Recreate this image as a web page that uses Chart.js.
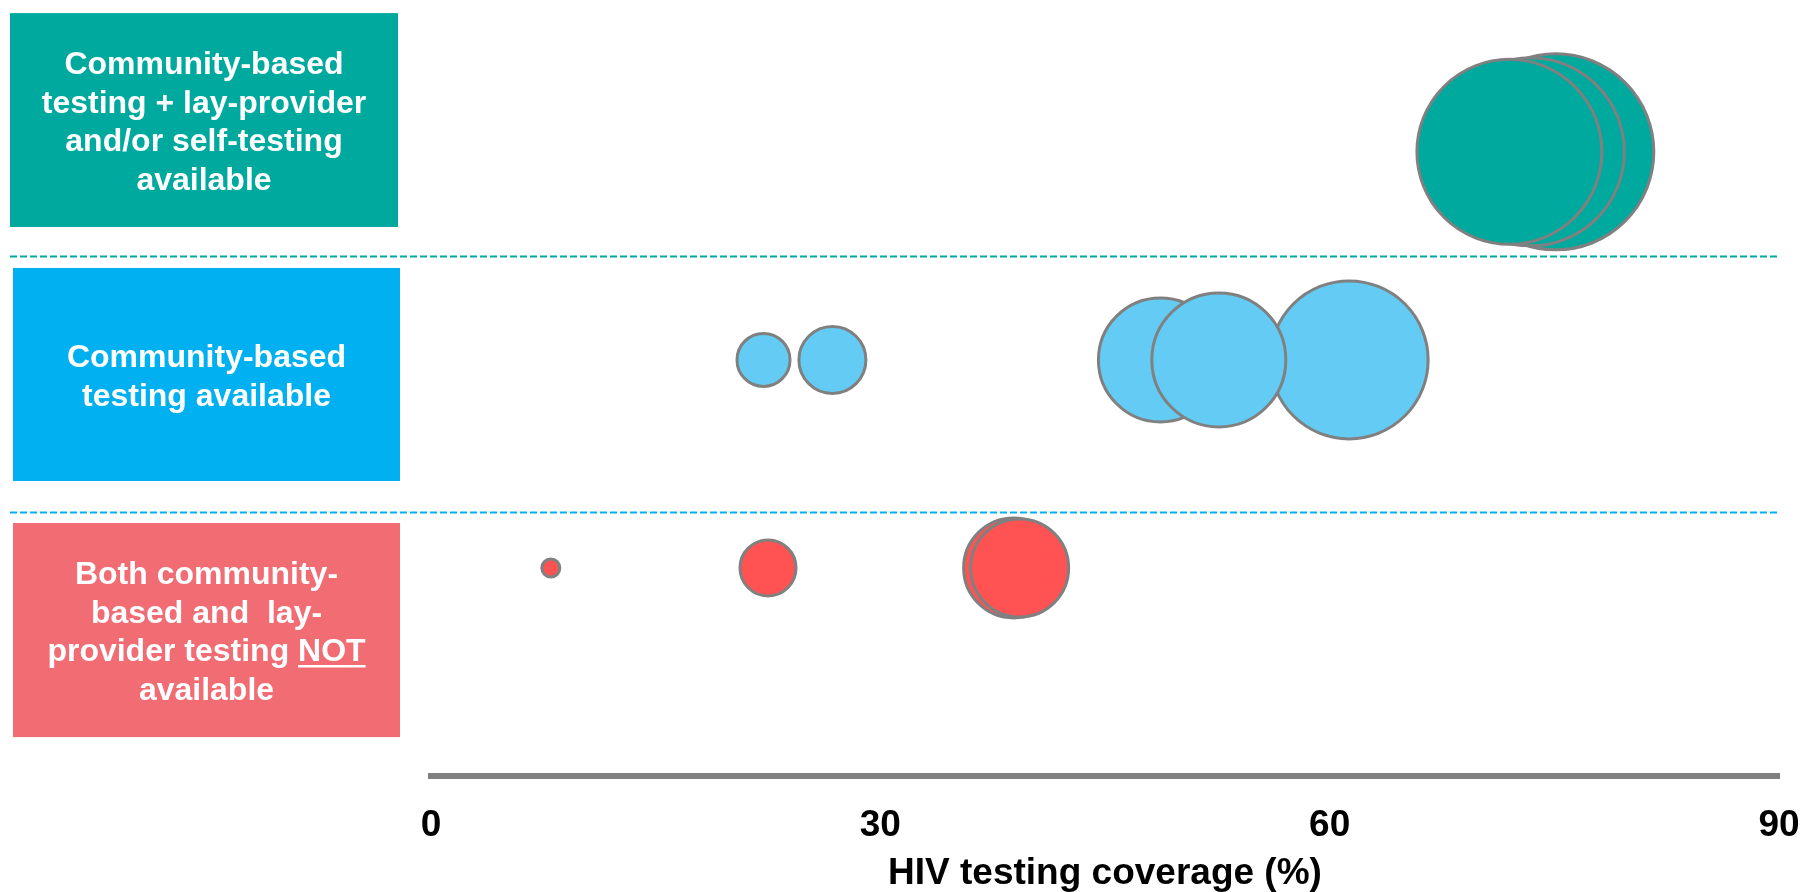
<!DOCTYPE html>
<html><head><meta charset="utf-8">
<script src="https://cdn.jsdelivr.net/npm/chart.js@4"></script>
<style>html,body{margin:0;padding:0;background:#fff;overflow:hidden}</style>
</head><body>
<canvas id="c" width="1807" height="892"></canvas>
<script>
// ---- data ----
const rowLevels = [3, 2, 1];               // green row, blue row, red row
const greenX = [75.1, 73.4, 72.0];
const greenR = [98, 94, 92.5];
const blueX  = [48.7, 61.3, 52.6, 22.2, 26.8];
const blueR  = [62, 79, 67, 26.5, 33.5];
const redX   = [8.0, 22.5, 38.9, 39.3];
const redR   = [9, 28, 50, 49];
const xTicks = [0, 30, 60, 90];
const axisTitle = 'HIV testing coverage (%)';
const groupLabels = [
  ['Community-based', 'testing + lay-provider', 'and/or self-testing', 'available'],
  ['Community-based', 'testing available'],
  ['Both community-', 'based and  lay-', 'provider testing NOT', 'available']
];

// ---- styles ----
const FONT = '"Liberation Sans", Arial, sans-serif';
const groupColors = ['#00A99D', '#00B0F0', '#F26C74'];
const bubbleColors = ['#00A99D', '#63CBF4', '#FF5252'];
const dividerColors = ['#00A99D', '#00B0F0'];
const boxSpans = [[3.667, 2.639], [2.442, 1.418], [1.216, 0.187]];
const boxX = [[10, 398], [13, 400], [13, 400]];
const dividerLevels = [2.5, 1.269];

function ds(xs, rs, level, i) {
  return {
    data: xs.map((x, k) => ({ x: x, y: level, r: rs[k] })),
    backgroundColor: bubbleColors[i],
    hoverBackgroundColor: bubbleColors[i],
    borderColor: '#808080',
    hoverBorderColor: '#808080',
    borderWidth: 3,
    hoverBorderWidth: 3,
    hoverRadius: 0,
    clip: false
  };
}

const sidePlugin = {
  id: 'side',
  beforeDatasetsDraw(chart) {
    const c = chart.ctx, y = chart.scales.y, area = chart.chartArea;
    c.save();
    dividerLevels.forEach((lv, i) => {
      const py = Math.round(y.getPixelForValue(lv)) + 0.5;
      c.strokeStyle = dividerColors[i];
      c.lineWidth = 2;
      c.setLineDash([7, 3]);
      c.beginPath();
      c.moveTo(10, py);
      c.lineTo(area.right, py);
      c.stroke();
    });
    c.setLineDash([]);
    groupLabels.forEach((lines, i) => {
      const t = y.getPixelForValue(boxSpans[i][0]);
      const b = y.getPixelForValue(boxSpans[i][1]);
      const l = boxX[i][0], r = boxX[i][1];
      c.fillStyle = groupColors[i];
      c.fillRect(l, t, r - l, b - t);
      c.fillStyle = '#fff';
      c.strokeStyle = '#fff';
      c.font = 'bold 32px ' + FONT;
      c.textAlign = 'center';
      c.textBaseline = 'middle';
      const lh = 38.6;
      const cx = (l + r) / 2, cy = (t + b) / 2 + 3;
      lines.forEach((s, k) => {
        const ly = cy + (k - (lines.length - 1) / 2) * lh;
        c.fillText(s, cx, ly);
        if (i === 2 && s.endsWith('NOT')) {
          const w = c.measureText(s).width;
          const wn = c.measureText('NOT').width;
          const x1 = cx + w / 2 - wn, x2 = cx + w / 2;
          c.lineWidth = 2.5;
          c.beginPath();
          c.moveTo(x1, ly + 14);
          c.lineTo(x2, ly + 14);
          c.stroke();
        }
      });
    });
    c.restore();
  }
};

new Chart(document.getElementById('c'), {
  type: 'bubble',
  data: {
    datasets: [
      ds(greenX, greenR, rowLevels[0], 0),
      ds(blueX, blueR, rowLevels[1], 1),
      ds(redX, redR, rowLevels[2], 2)
    ]
  },
  options: {
    responsive: false,
    animation: false,
    devicePixelRatio: 1,
    events: [],
    layout: { autoPadding: false, padding: { left: 431, right: 28, top: 0, bottom: 0 } },
    plugins: { legend: { display: false }, tooltip: { enabled: false } },
    scales: {
      x: {
        type: 'linear', min: 0, max: 90,
        afterBuildTicks(s) { s.ticks = xTicks.map(v => ({ value: v })); },
        afterFit(s) { s.height = 116; s.paddingLeft = 0; s.paddingRight = 0; },
        ticks: { color: '#000', font: { family: FONT, size: 37, weight: 'bold', lineHeight: 1.2 }, padding: 28, maxRotation: 0 },
        grid: { display: false, drawTicks: false },
        border: { display: true, color: '#808080', width: 6 },
        title: { display: true, text: axisTitle, color: '#000', font: { family: FONT, size: 37, weight: 'bold', lineHeight: 1.0 }, padding: { top: 0, bottom: 0 } }
      },
      y: { display: false, min: 0, max: 3.73 }
    }
  },
  plugins: [sidePlugin]
});
</script>
</body></html>
